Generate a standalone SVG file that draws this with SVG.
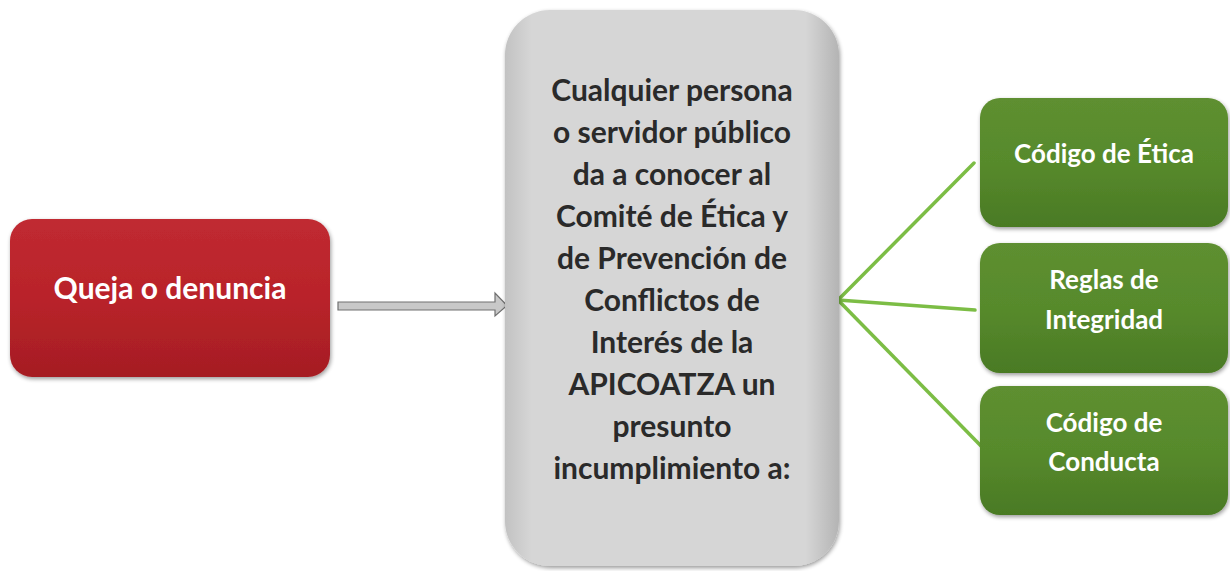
<svg xmlns="http://www.w3.org/2000/svg" width="1230" height="571" viewBox="0 0 1230 571">
<defs>
<style>
.t{font-family:Lato,"Open Sans","Liberation Sans",sans-serif;font-weight:bold;text-anchor:middle}
.w{fill:#ffffff;font-size:30px}
.g{fill:#2a2a2a;font-size:30px}
.gw{fill:#ffffff;font-size:26px}
.ln{stroke:#7cbd45;stroke-width:3.5;fill:none;stroke-linecap:round}
</style>
<linearGradient id="red" x1="0" y1="0" x2="0" y2="1">
<stop offset="0" stop-color="#c02a31"/>
<stop offset="0.5" stop-color="#b9232a"/>
<stop offset="1" stop-color="#a51d23"/>
</linearGradient>
<linearGradient id="gray" x1="0" y1="0" x2="1" y2="0">
<stop offset="0" stop-color="#c2c2c2"/>
<stop offset="0.08" stop-color="#d6d6d6"/>
<stop offset="0.9" stop-color="#d6d6d6"/>
<stop offset="1" stop-color="#b4b4b4"/>
</linearGradient>
<linearGradient id="grn" x1="0" y1="0" x2="0" y2="1">
<stop offset="0" stop-color="#5e8f30"/>
<stop offset="0.5" stop-color="#578a2c"/>
<stop offset="1" stop-color="#4a7a24"/>
</linearGradient>
<filter id="sh" x="-10%" y="-10%" width="120%" height="120%">
<feGaussianBlur in="SourceAlpha" stdDeviation="2"/>
<feOffset dx="1" dy="2"/>
<feComponentTransfer><feFuncA type="linear" slope="0.4"/></feComponentTransfer>
<feMerge><feMergeNode/><feMergeNode in="SourceGraphic"/></feMerge>
</filter>
</defs>
<rect width="1230" height="571" fill="#ffffff"/>
<g id="connectors">
<path d="M338,302 H495 V293 L507,305.5 L495,316 V310 H338 Z" fill="#c8c8c8" stroke="#707070" stroke-width="1.2"/>
<line class="ln" x1="838" y1="300" x2="974" y2="163"/>
<line class="ln" x1="838" y1="300" x2="975" y2="310"/>
<line class="ln" x1="838" y1="300" x2="982" y2="447"/>
</g>
<g id="queja">
<rect x="10" y="219" width="320" height="158" rx="22" fill="url(#red)" filter="url(#sh)"/>
<text class="t w" x="170" y="299">Queja o denuncia</text>
</g>
<g id="persona">
<rect x="505" y="10" width="334" height="556" rx="45" fill="url(#gray)" filter="url(#sh)"/>
<g class="t g">
<text x="672" y="101">Cualquier persona</text>
<text x="672" y="143">o servidor público</text>
<text x="672" y="185">da a conocer al</text>
<text x="672" y="227">Comité de Ética y</text>
<text x="672" y="269">de Prevención de</text>
<text x="672" y="311">Conflictos de</text>
<text x="672" y="353">Interés de la</text>
<text x="672" y="395">APICOATZA un</text>
<text x="672" y="437">presunto</text>
<text x="672" y="479">incumplimiento a:</text>
</g>
</g>
<g id="etica">
<rect x="980" y="98" width="248" height="129" rx="20" fill="url(#grn)" filter="url(#sh)"/>
<text class="t gw" x="1104" y="163">Código de Ética</text>
</g>
<g id="integridad">
<rect x="980" y="243" width="248" height="130" rx="20" fill="url(#grn)" filter="url(#sh)"/>
<text class="t gw" x="1104" y="289">Reglas de</text>
<text class="t gw" x="1104" y="329">Integridad</text>
</g>
<g id="conducta">
<rect x="980" y="386" width="248" height="129" rx="20" fill="url(#grn)" filter="url(#sh)"/>
<text class="t gw" x="1104" y="432">Código de</text>
<text class="t gw" x="1104" y="471">Conducta</text>
</g>
</svg>
